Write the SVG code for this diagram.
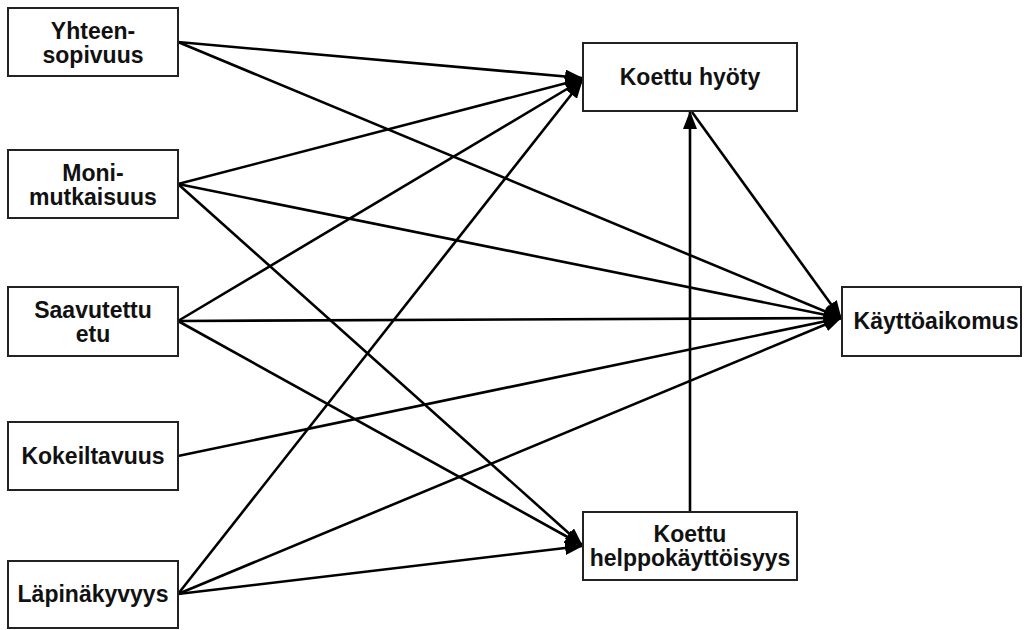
<svg xmlns="http://www.w3.org/2000/svg" width="1024" height="630" viewBox="0 0 1024 630">
<style>
.box{fill:#fff;stroke:#222;stroke-width:2}
.t{font-family:"Liberation Sans",Arial,sans-serif;font-weight:bold;font-size:23px;fill:#111;text-anchor:middle}
.e{stroke:#000;stroke-width:2.6;fill:none;marker-end:url(#ah)}
</style>
<defs>
<marker id="ah" markerUnits="userSpaceOnUse" markerWidth="18" markerHeight="14" viewBox="0 0 18 14" refX="17" refY="7" orient="auto">
<path d="M0,0 L18,7 L0,14 Z" fill="#000"/>
</marker>
</defs>
<rect width="1024" height="630" fill="#fff"/>
<g id="connectors">
<line class="e" x1="178" y1="42" x2="582" y2="78"/>
<line class="e" x1="178" y1="42" x2="841" y2="318"/>
<line class="e" x1="178" y1="184" x2="582" y2="79"/>
<line class="e" x1="178" y1="184" x2="841" y2="318"/>
<line class="e" x1="178" y1="184" x2="582" y2="545"/>
<line class="e" x1="178" y1="321" x2="582" y2="80"/>
<line class="e" x1="178" y1="321" x2="841" y2="318"/>
<line class="e" x1="178" y1="321" x2="582" y2="545"/>
<line class="e" x1="178" y1="456" x2="841" y2="318"/>
<line class="e" x1="178" y1="594" x2="582" y2="81"/>
<line class="e" x1="178" y1="594" x2="841" y2="318"/>
<line class="e" x1="178" y1="594" x2="582" y2="546"/>
<line class="e" x1="690" y1="512" x2="690" y2="112"/>
<line class="e" x1="692" y1="112" x2="841" y2="318"/>
</g>
<g id="yhteensopivuus"><rect class="box" x="8" y="8" width="170" height="68"/><text class="t" x="93" y="39">Yhteen-</text><text class="t" x="93" y="63">sopivuus</text></g>
<g id="monimutkaisuus"><rect class="box" x="8" y="150" width="170" height="68"/><text class="t" x="93" y="181">Moni-</text><text class="t" x="93" y="205">mutkaisuus</text></g>
<g id="saavutettu"><rect class="box" x="8" y="287" width="170" height="69"/><text class="t" x="93" y="318">Saavutettu</text><text class="t" x="93" y="342">etu</text></g>
<g id="kokeiltavuus"><rect class="box" x="8" y="422" width="170" height="68"/><text class="t" x="93" y="464">Kokeiltavuus</text></g>
<g id="lapinakyvyys"><rect class="box" x="8" y="561" width="170" height="67"/><text class="t" x="93" y="602">Läpinäkyvyys</text></g>
<g id="hyoty"><rect class="box" x="583" y="43" width="214" height="68"/><text class="t" x="690" y="85">Koettu hyöty</text></g>
<g id="helppokayttoisyys"><rect class="box" x="583" y="512" width="214" height="68"/><text class="t" x="690" y="542">Koettu</text><text class="t" x="690" y="566">helppokäyttöisyys</text></g>
<g id="kayttoaikomus"><rect class="box" x="842" y="287" width="179" height="69"/><text class="t" x="936" y="329">Käyttöaikomus</text></g>
</svg>
